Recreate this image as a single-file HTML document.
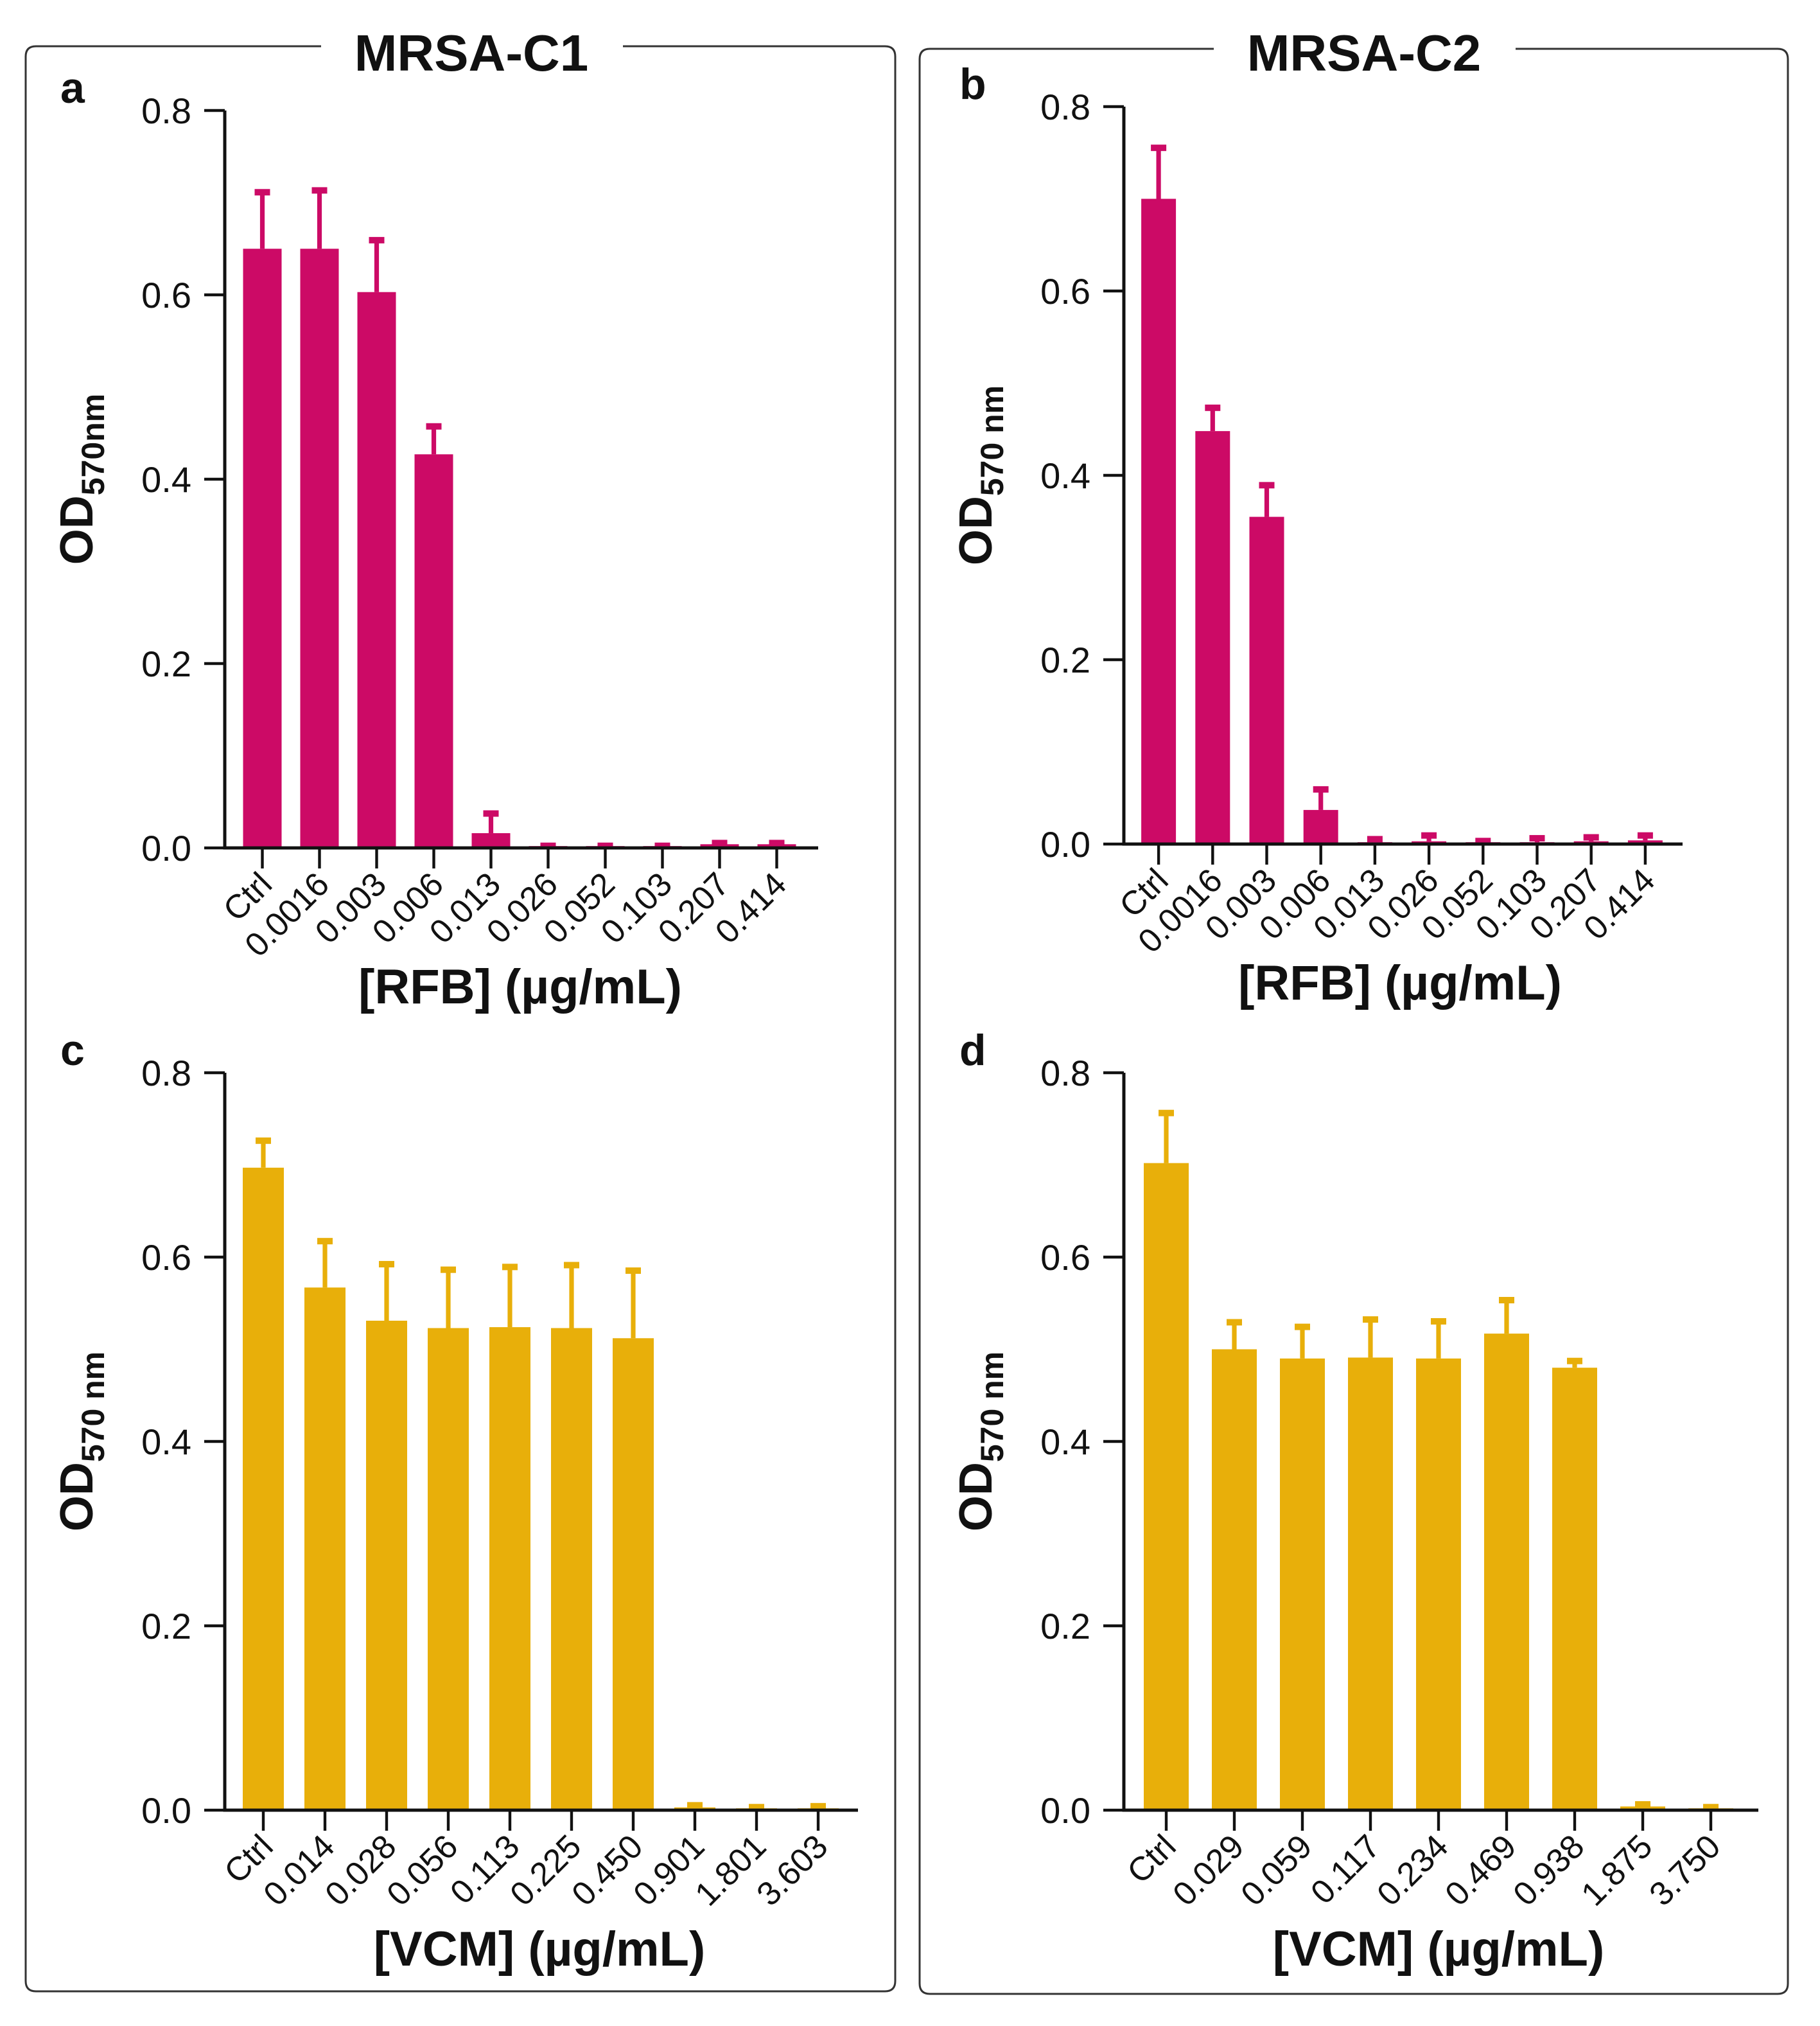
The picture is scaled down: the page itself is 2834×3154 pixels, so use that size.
<!DOCTYPE html>
<html><head><meta charset="utf-8"><style>
html,body{margin:0;padding:0;background:#fff}
svg{display:block}
text{font-family:"Liberation Sans",Arial,sans-serif;fill:#111}
</style></head><body>
<svg id="chart" width="2834" height="3154" viewBox="0 0 1417 1577" xmlns="http://www.w3.org/2000/svg">
<g fill="none" stroke="#333" stroke-width="1.5">
<path d="M250,36 H28 Q20,36 20,44 V1542 Q20,1550 28,1550 H689 Q697,1550 697,1542 V44 Q697,36 689,36 H485"/>
<path d="M945,38 H724 Q716,38 716,46 V1544 Q716,1552 724,1552 H1384 Q1392,1552 1392,1544 V46 Q1392,38 1384,38 H1180"/>
</g>
<text x="367" y="55" text-anchor="middle" font-size="40" font-weight="bold">MRSA-C1</text>
<text x="1062" y="55" text-anchor="middle" font-size="40" font-weight="bold">MRSA-C2</text>
<g id="plots"></g>
</svg>
<script>
const cats_a=["Ctrl","0.0016","0.003","0.006","0.013","0.026","0.052","0.103","0.207","0.414"];
const vals_a=[0.65,0.65,0.603,0.427,0.016,0.002,0.002,0.002,0.004,0.004];
const errs_a=[0.712,0.714,0.66,0.458,0.038,0.003,0.003,0.003,0.006,0.006];
const cats_b=["Ctrl","0.0016","0.003","0.006","0.013","0.026","0.052","0.103","0.207","0.414"];
const vals_b=[0.70,0.448,0.355,0.037,0.002,0.003,0.002,0.002,0.003,0.004];
const errs_b=[0.756,0.474,0.39,0.06,0.006,0.01,0.004,0.007,0.008,0.01];
const cats_c=["Ctrl","0.014","0.028","0.056","0.113","0.225","0.450","0.901","1.801","3.603"];
const vals_c=[0.697,0.567,0.531,0.523,0.524,0.523,0.512,0.003,0.002,0.002];
const errs_c=[0.727,0.618,0.593,0.587,0.590,0.592,0.586,0.006,0.004,0.005];
const cats_d=["Ctrl","0.029","0.059","0.117","0.234","0.469","0.938","1.875","3.750"];
const vals_d=[0.702,0.5,0.49,0.491,0.49,0.517,0.48,0.004,0.002];
const errs_d=[0.757,0.53,0.525,0.533,0.531,0.554,0.488,0.007,0.004];
const yticks=[0,0.2,0.4,0.6,0.8];
const ytickLabels=["0.0","0.2","0.4","0.6","0.8"];

const NS="http://www.w3.org/2000/svg";
const root=document.getElementById('plots');
function mk(tag,attrs,parent){const e=document.createElementNS(NS,tag);for(const k in attrs)e.setAttribute(k,attrs[k]);parent.appendChild(e);return e;}

function panel(id,letter,cats,vals,errs,cfg){
  const g=mk('g',{},root);
  
  
  const y=v=>cfg.y0-(v/0.8)*(cfg.y0-cfg.y8);
  const x=i=>cfg.x0+cfg.step*(i+0.5)+cfg.off;
  const lt=mk('text',{x:cfg.ax-128,y:cfg.y8-6,'font-size':34,'font-weight':'bold'},g);
  lt.textContent=letter;
  
  
  cats.forEach((c,i)=>{
    const cx=x(i),top=y(vals[i]),et=y(errs[i]);
    const bw=cfg.bw;
    const b=mk('rect',{x:cx-bw/2,y:top,width:bw,height:Math.max(cfg.y0-top,2.5),fill:cfg.color},g);
    
    
    const e=mk('g',{fill:cfg.color},g);
    
    
    mk('rect',{x:cx-1.8,y:et,width:3.6,height:Math.max(top-et,0)},e);
    mk('rect',{x:cx-6,y:et-2,width:12,height:5},e);
    mk('line',{x1:cx,y1:cfg.y0,x2:cx,y2:cfg.y0+16,stroke:'#111','stroke-width':2.2},g);
    const tx=cx+9,ty=cfg.y0+30;
    const t=mk('text',{x:tx,y:ty,'font-size':26,'text-anchor':'end',transform:`rotate(-45 ${tx} ${ty})`},g);
    t.textContent=c;
    
    
  });
  const ax=mk('path',{d:`M${cfg.ax},${cfg.y8} V${cfg.y0} H${cfg.xend}`,stroke:'#111','stroke-width':2.5,fill:'none'},g);
  
  
  yticks.forEach((v,i)=>{
    mk('line',{x1:cfg.ax-16,y1:y(v),x2:cfg.ax,y2:y(v),stroke:'#111','stroke-width':2.2},g);
    const t=mk('text',{x:cfg.ax-26,y:y(v)+10,'font-size':28,'text-anchor':'end'},g);
    t.textContent=ytickLabels[i];
    
    
  });
  const ymid=(cfg.y0+cfg.y8)/2;
  const yl=mk('text',{x:cfg.ax-103,y:ymid,'font-size':36,'font-weight':'bold','text-anchor':'middle',transform:`rotate(-90 ${cfg.ax-103} ${ymid})`},g);
  yl.innerHTML='OD<tspan font-size="25" dy="9">'+cfg.sub+'</tspan>';
  
  
  const xl=mk('text',{x:cfg.xt,y:cfg.y0+121,'font-size':38,'font-weight':'bold','text-anchor':'middle'},g);
  xl.textContent=cfg.xtitle;
  
  
}
const mag="#CC0A66",gold="#E8AF0A";
panel('a','a',cats_a,vals_a,errs_a,{ax:175,x0:175,step:44.5,off:7,bw:30,y0:660,y8:86,xend:637,color:mag,sub:'570nm',xtitle:'[RFB] (µg/mL)',xt:405});
panel('b','b',cats_b,vals_b,errs_b,{ax:875,x0:875,step:42.1,off:6,bw:27,y0:657,y8:83,xend:1310,color:mag,sub:'570 nm',xtitle:'[RFB] (µg/mL)',xt:1090});
panel('c','c',cats_c,vals_c,errs_c,{ax:175,x0:175,step:48,off:6,bw:32,y0:1409,y8:835,xend:668,color:gold,sub:'570 nm',xtitle:'[VCM] (µg/mL)',xt:420});
panel('d','d',cats_d,vals_d,errs_d,{ax:875,x0:875,step:53,off:6.5,bw:35,y0:1409,y8:835,xend:1369,color:gold,sub:'570 nm',xtitle:'[VCM] (µg/mL)',xt:1120});
</script>
</body></html>
